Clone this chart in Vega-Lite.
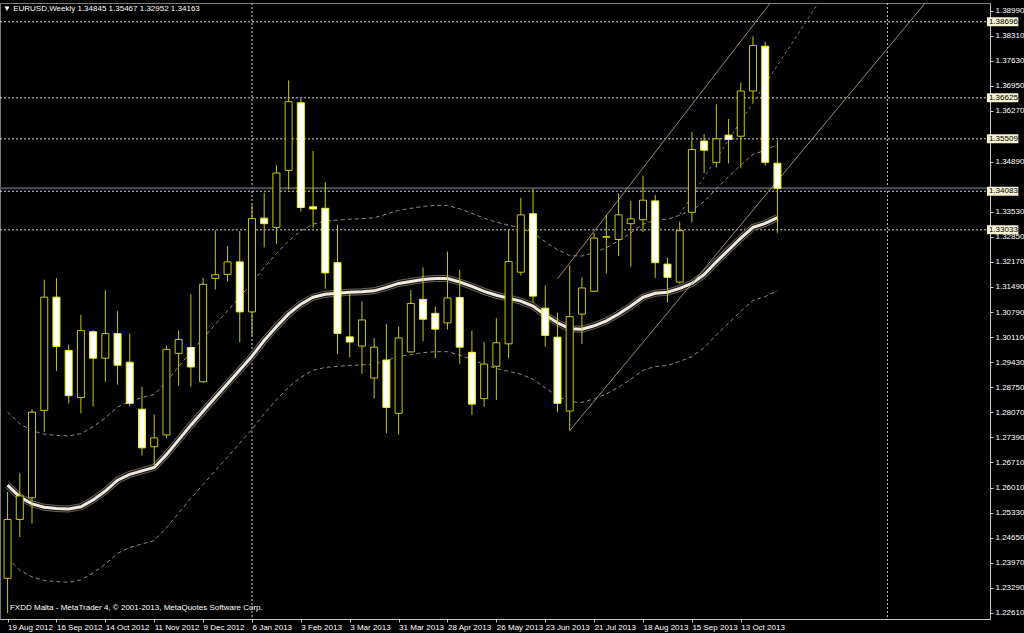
{
  "$schema": "https://vega.github.io/schema/vega-lite/v6.json",
  "width": 990,
  "height": 616,
  "autosize": {"type": "none"},
  "padding": {"left": 0, "top": 3, "right": 34, "bottom": 14},
  "background": "#000000",
  "title": {"text": "▼ EURUSD,Weekly  1.34845 1.35467 1.32952 1.34163", "anchor": "start", "frame": "group", "orient": "top", "offset": -18, "baseline": "bottom", "color": "#ffffff", "fontSize": 8, "fontWeight": "normal", "font": "Liberation Sans, DejaVu Sans", "dx": 3},
  "config": {
    "view": {"stroke": "#7a7a7a", "fill": "#000000"},
    "font": "Liberation Sans",
    "axis": {"grid": false, "title": null, "labelOverlap": false, "labelFlush": false, "labelBound": false, "labelFontSize": 8, "labelColor": "#ffffff", "labelFont": "Liberation Sans", "tickSize": 3, "tickColor": "#c8c8c8", "domainColor": "#c8c8c8", "zindex": 0},
    "axisX": {"labelAlign": "left", "labelBaseline": "top", "labelPadding": 1, "labelDx": -3},
    "axisY": {"labelAlign": "left", "labelBaseline": "middle", "labelPadding": 2}
  },
  "datasets": {
    "candles": [
      {"date":"2012-08-19","open":1.2355,"high":1.2590,"low":1.2260,"close":1.2515,"ma":1.26085,"upper":1.28075,"lower":1.24095},
      {"date":"2012-08-26","open":1.2515,"high":1.2641,"low":1.2467,"close":1.2579,"ma":1.25764,"upper":1.27754,"lower":1.23774},
      {"date":"2012-09-02","open":1.2574,"high":1.2815,"low":1.2504,"close":1.2807,"ma":1.25576,"upper":1.27566,"lower":1.23586},
      {"date":"2012-09-09","open":1.2812,"high":1.3168,"low":1.2753,"close":1.3120,"ma":1.25482,"upper":1.27472,"lower":1.23492},
      {"date":"2012-09-16","open":1.3120,"high":1.3172,"low":1.2919,"close":1.2986,"ma":1.25450,"upper":1.27440,"lower":1.23460},
      {"date":"2012-09-23","open":1.2975,"high":1.2991,"low":1.2831,"close":1.2852,"ma":1.25434,"upper":1.27424,"lower":1.23444},
      {"date":"2012-09-30","open":1.2847,"high":1.3072,"low":1.2804,"close":1.3029,"ma":1.25496,"upper":1.27486,"lower":1.23506},
      {"date":"2012-10-07","open":1.3026,"high":1.3030,"low":1.2823,"close":1.2954,"ma":1.25683,"upper":1.27673,"lower":1.23693},
      {"date":"2012-10-14","open":1.2954,"high":1.3139,"low":1.2890,"close":1.3021,"ma":1.25924,"upper":1.27914,"lower":1.23934},
      {"date":"2012-10-21","open":1.3021,"high":1.3082,"low":1.2882,"close":1.2935,"ma":1.26219,"upper":1.28209,"lower":1.24229},
      {"date":"2012-10-28","open":1.2943,"high":1.3021,"low":1.2823,"close":1.2831,"ma":1.26379,"upper":1.28369,"lower":1.24389},
      {"date":"2012-11-04","open":1.2815,"high":1.2876,"low":1.2689,"close":1.2710,"ma":1.26473,"upper":1.28463,"lower":1.24483},
      {"date":"2012-11-11","open":1.2713,"high":1.2801,"low":1.2662,"close":1.2737,"ma":1.26567,"upper":1.28557,"lower":1.24577},
      {"date":"2012-11-18","open":1.2745,"high":1.2989,"low":1.2737,"close":1.2978,"ma":1.26915,"upper":1.28905,"lower":1.24925},
      {"date":"2012-11-25","open":1.2967,"high":1.3029,"low":1.2879,"close":1.3005,"ma":1.27317,"upper":1.29307,"lower":1.25327},
      {"date":"2012-12-02","open":1.2983,"high":1.3128,"low":1.2876,"close":1.2930,"ma":1.27718,"upper":1.29708,"lower":1.25728},
      {"date":"2012-12-09","open":1.2890,"high":1.3173,"low":1.2887,"close":1.3155,"ma":1.28093,"upper":1.30083,"lower":1.26103},
      {"date":"2012-12-16","open":1.3171,"high":1.3302,"low":1.3141,"close":1.3181,"ma":1.28468,"upper":1.30458,"lower":1.26478},
      {"date":"2012-12-23","open":1.3182,"high":1.3259,"low":1.3163,"close":1.3216,"ma":1.28843,"upper":1.30833,"lower":1.26853},
      {"date":"2012-12-30","open":1.3216,"high":1.3300,"low":1.2997,"close":1.3080,"ma":1.29217,"upper":1.31207,"lower":1.27227},
      {"date":"2013-01-06","open":1.3080,"high":1.3370,"low":1.3013,"close":1.3334,"ma":1.29592,"upper":1.31582,"lower":1.27602},
      {"date":"2013-01-13","open":1.3335,"high":1.3404,"low":1.3256,"close":1.3320,"ma":1.30021,"upper":1.32011,"lower":1.28031},
      {"date":"2013-01-20","open":1.3310,"high":1.3479,"low":1.3265,"close":1.3458,"ma":1.30396,"upper":1.32386,"lower":1.28406},
      {"date":"2013-01-27","open":1.3465,"high":1.3710,"low":1.3413,"close":1.3652,"ma":1.30744,"upper":1.32734,"lower":1.28754},
      {"date":"2013-02-03","open":1.3649,"high":1.3661,"low":1.3353,"close":1.3364,"ma":1.31011,"upper":1.33001,"lower":1.29021},
      {"date":"2013-02-10","open":1.3366,"high":1.3518,"low":1.3308,"close":1.3360,"ma":1.31199,"upper":1.33189,"lower":1.29209},
      {"date":"2013-02-17","open":1.3362,"high":1.3433,"low":1.3143,"close":1.3186,"ma":1.31279,"upper":1.33269,"lower":1.29289},
      {"date":"2013-02-24","open":1.3214,"high":1.3317,"low":1.2965,"close":1.3021,"ma":1.31306,"upper":1.33296,"lower":1.29316},
      {"date":"2013-03-03","open":1.3012,"high":1.3130,"low":1.2956,"close":1.2998,"ma":1.31333,"upper":1.33323,"lower":1.29343},
      {"date":"2013-03-10","open":1.2987,"high":1.3109,"low":1.2911,"close":1.3058,"ma":1.31346,"upper":1.33336,"lower":1.29356},
      {"date":"2013-03-17","open":1.2900,"high":1.3009,"low":1.2844,"close":1.2984,"ma":1.31373,"upper":1.33363,"lower":1.29383},
      {"date":"2013-03-24","open":1.2949,"high":1.3047,"low":1.2750,"close":1.2820,"ma":1.31467,"upper":1.33457,"lower":1.29477},
      {"date":"2013-03-31","open":1.2804,"high":1.3040,"low":1.2746,"close":1.3009,"ma":1.31574,"upper":1.33564,"lower":1.29584},
      {"date":"2013-04-07","open":1.2971,"high":1.3139,"low":1.2969,"close":1.3103,"ma":1.31627,"upper":1.33617,"lower":1.29637},
      {"date":"2013-04-14","open":1.3114,"high":1.3201,"low":1.3000,"close":1.3060,"ma":1.31681,"upper":1.33671,"lower":1.29691},
      {"date":"2013-04-21","open":1.3076,"high":1.3094,"low":1.2954,"close":1.3033,"ma":1.31707,"upper":1.33697,"lower":1.29717},
      {"date":"2013-04-28","open":1.3050,"high":1.3244,"low":1.3032,"close":1.3118,"ma":1.31707,"upper":1.33697,"lower":1.29717},
      {"date":"2013-05-05","open":1.3119,"high":1.3194,"low":1.2938,"close":1.2984,"ma":1.31614,"upper":1.33604,"lower":1.29624},
      {"date":"2013-05-12","open":1.2970,"high":1.3029,"low":1.2799,"close":1.2829,"ma":1.31493,"upper":1.33483,"lower":1.29503},
      {"date":"2013-05-19","open":1.2844,"high":1.2998,"low":1.2822,"close":1.2938,"ma":1.31359,"upper":1.33349,"lower":1.29369},
      {"date":"2013-05-26","open":1.2932,"high":1.3063,"low":1.2840,"close":1.2996,"ma":1.31252,"upper":1.33242,"lower":1.29262},
      {"date":"2013-06-02","open":1.2993,"high":1.3304,"low":1.2954,"close":1.3217,"ma":1.31172,"upper":1.33162,"lower":1.29182},
      {"date":"2013-06-09","open":1.3188,"high":1.3390,"low":1.3179,"close":1.3344,"ma":1.31092,"upper":1.33082,"lower":1.29102},
      {"date":"2013-06-16","open":1.3347,"high":1.3415,"low":1.3105,"close":1.3123,"ma":1.30958,"upper":1.32948,"lower":1.28968},
      {"date":"2013-06-23","open":1.3090,"high":1.3152,"low":1.2985,"close":1.3016,"ma":1.30717,"upper":1.32707,"lower":1.28727},
      {"date":"2013-06-30","open":1.3011,"high":1.3078,"low":1.2807,"close":1.2831,"ma":1.30503,"upper":1.32493,"lower":1.28513},
      {"date":"2013-07-07","open":1.2810,"high":1.3206,"low":1.2757,"close":1.3067,"ma":1.30342,"upper":1.32332,"lower":1.28352},
      {"date":"2013-07-14","open":1.3074,"high":1.3174,"low":1.2993,"close":1.3145,"ma":1.30329,"upper":1.32319,"lower":1.28339},
      {"date":"2013-07-21","open":1.3136,"high":1.3295,"low":1.3134,"close":1.3281,"ma":1.30422,"upper":1.32412,"lower":1.28432},
      {"date":"2013-07-28","open":1.3283,"high":1.3344,"low":1.3185,"close":1.3285,"ma":1.30556,"upper":1.32546,"lower":1.28566},
      {"date":"2013-08-04","open":1.3277,"high":1.3402,"low":1.3232,"close":1.3344,"ma":1.30744,"upper":1.32734,"lower":1.28754},
      {"date":"2013-08-11","open":1.3320,"high":1.3382,"low":1.3203,"close":1.3333,"ma":1.30958,"upper":1.32948,"lower":1.28968},
      {"date":"2013-08-18","open":1.3331,"high":1.3451,"low":1.3297,"close":1.3384,"ma":1.31199,"upper":1.33189,"lower":1.29209},
      {"date":"2013-08-25","open":1.3382,"high":1.3398,"low":1.3173,"close":1.3214,"ma":1.31306,"upper":1.33296,"lower":1.29316},
      {"date":"2013-09-01","open":1.3210,"high":1.3228,"low":1.3105,"close":1.3174,"ma":1.31333,"upper":1.33323,"lower":1.29343},
      {"date":"2013-09-08","open":1.3161,"high":1.3326,"low":1.3157,"close":1.3301,"ma":1.31440,"upper":1.33430,"lower":1.29450},
      {"date":"2013-09-15","open":1.3351,"high":1.3569,"low":1.3324,"close":1.3522,"ma":1.31574,"upper":1.33564,"lower":1.29584},
      {"date":"2013-09-22","open":1.3545,"high":1.3564,"low":1.3458,"close":1.3520,"ma":1.31815,"upper":1.33805,"lower":1.29825},
      {"date":"2013-09-29","open":1.3487,"high":1.3645,"low":1.3473,"close":1.3551,"ma":1.32163,"upper":1.34153,"lower":1.30173},
      {"date":"2013-10-06","open":1.3561,"high":1.3605,"low":1.3484,"close":1.3549,"ma":1.32484,"upper":1.34474,"lower":1.30494},
      {"date":"2013-10-13","open":1.3558,"high":1.3704,"low":1.3471,"close":1.3681,"ma":1.32805,"upper":1.34795,"lower":1.30815},
      {"date":"2013-10-20","open":1.3681,"high":1.3830,"low":1.3650,"close":1.3805,"ma":1.33100,"upper":1.35090,"lower":1.31110},
      {"date":"2013-10-27","open":1.3803,"high":1.3815,"low":1.3478,"close":1.3487,"ma":1.33207,"upper":1.35197,"lower":1.31217},
      {"date":"2013-11-03","open":1.34845,"high":1.35467,"low":1.32952,"close":1.34163,"ma":1.33367,"upper":1.35357,"lower":1.31377}
    ],
    "levels": [{"price":1.38696},{"price":1.36625},{"price":1.35509},{"price":1.34083},{"price":1.33033}],
    "current": [{"price":1.34163}],
    "vgrid": [{"date":"2013-01-06"},{"date":"2014-01-05"}],
    "channel": [
      {"line":"upper","date":"2013-06-30","price":1.31699},
      {"line":"upper","date":"2013-11-10","price":1.3989},
      {"line":"lower","date":"2013-07-07","price":1.2757},
      {"line":"lower","date":"2014-02-16","price":1.40367}
    ],
    "dashline": [
      {"date":"2013-09-08","price":1.3345},
      {"date":"2013-12-01","price":1.3954}
    ]
  },
  "layer": [
    {
      "data": {"name": "vgrid"},
      "mark": {"type": "rule", "color": "#c8c8c8", "strokeDash": [2, 2], "strokeWidth": 1},
      "encoding": {
        "x": {"field": "date", "type": "temporal",
          "scale": {"type": "utc", "domain": [{"year":2012,"month":8,"date":17,"hours":12,"minutes":36,"utc":true},{"year":2014,"month":3,"date":1,"hours":21,"minutes":36,"utc":true}]},
          "axis": {"orient": "bottom", "title": null, "grid": false, "labelOverlap": false, "tickCount": 40, "zindex": 0,
            "values": [
              {"year":2012,"month":8,"date":19,"utc":true},{"year":2012,"month":9,"date":16,"utc":true},{"year":2012,"month":10,"date":14,"utc":true},{"year":2012,"month":11,"date":11,"utc":true},{"year":2012,"month":12,"date":9,"utc":true},{"year":2013,"month":1,"date":6,"utc":true},{"year":2013,"month":2,"date":3,"utc":true},{"year":2013,"month":3,"date":3,"utc":true},{"year":2013,"month":3,"date":31,"utc":true},{"year":2013,"month":4,"date":28,"utc":true},{"year":2013,"month":5,"date":26,"utc":true},{"year":2013,"month":6,"date":23,"utc":true},{"year":2013,"month":7,"date":21,"utc":true},{"year":2013,"month":8,"date":18,"utc":true},{"year":2013,"month":9,"date":15,"utc":true},{"year":2013,"month":10,"date":13,"utc":true}
            ],
            "format": "%-d %b %Y"}
        }
      }
    },
    {
      "data": {"name": "current"},
      "mark": {"type": "rule", "color": "#4f555c", "strokeWidth": 2},
      "encoding": {
        "y": {"field": "price", "type": "quantitative", "scale": {"domain": [1.22578, 1.3907], "zero": false, "nice": false},
          "axis": {"orient": "right", "title": null, "grid": false, "labelOverlap": false, "tickCount": 40, "zindex": 0,
            "values": [1.3899,1.3831,1.3763,1.3695,1.3627,1.3489,1.3353,1.3285,1.3217,1.3149,1.3079,1.3011,1.2943,1.2875,1.2807,1.2739,1.2671,1.2601,1.2533,1.2465,1.2397,1.2329,1.2261],
            "format": ".5f"}
        }
      }
    },
    {
      "data": {"name": "levels"},
      "mark": {"type": "rule", "color": "#d8d8c8", "strokeDash": [2, 2], "strokeWidth": 1},
      "encoding": {
        "y": {"field": "price", "type": "quantitative"}
      }
    },
    {
      "data": {"name": "candles"},
      "mark": {"type": "line", "color": "#8c8c8c", "strokeWidth": 1, "strokeDash": [4, 3], "clip": true},
      "encoding": {
        "x": {"field": "date", "type": "temporal"},
        "y": {"field": "upper", "type": "quantitative"}
      }
    },
    {
      "data": {"name": "candles"},
      "mark": {"type": "line", "color": "#8c8c8c", "strokeWidth": 1, "strokeDash": [4, 3], "clip": true},
      "encoding": {
        "x": {"field": "date", "type": "temporal"},
        "y": {"field": "lower", "type": "quantitative"}
      }
    },
    {
      "data": {"name": "candles"},
      "mark": {"type": "line", "color": "#65615c", "strokeWidth": 7, "clip": true},
      "encoding": {
        "x": {"field": "date", "type": "temporal"},
        "y": {"field": "ma", "type": "quantitative"}
      }
    },
    {
      "data": {"name": "candles"},
      "mark": {"type": "line", "color": "#141414", "strokeWidth": 5, "clip": true},
      "encoding": {
        "x": {"field": "date", "type": "temporal"},
        "y": {"field": "ma", "type": "quantitative"}
      }
    },
    {
      "data": {"name": "candles"},
      "mark": {"type": "line", "color": "#f1e9dd", "strokeWidth": 3, "clip": true},
      "encoding": {
        "x": {"field": "date", "type": "temporal"},
        "y": {"field": "ma", "type": "quantitative"}
      }
    },
    {
      "data": {"name": "channel"},
      "mark": {"type": "line", "color": "#9c8a68", "strokeWidth": 1, "clip": true},
      "encoding": {
        "x": {"field": "date", "type": "temporal"},
        "y": {"field": "price", "type": "quantitative"},
        "detail": {"field": "line"}
      }
    },
    {
      "data": {"name": "dashline"},
      "mark": {"type": "line", "color": "#7c7c7c", "strokeWidth": 1, "strokeDash": [3, 3], "clip": true},
      "encoding": {
        "x": {"field": "date", "type": "temporal"},
        "y": {"field": "price", "type": "quantitative"}
      }
    },
    {
      "data": {"name": "candles"},
      "mark": {"type": "rule", "color": "#c8c800", "strokeWidth": 1, "clip": true},
      "encoding": {
        "x": {"field": "date", "type": "temporal"},
        "y": {"field": "low", "type": "quantitative"},
        "y2": {"field": "high"}
      }
    },
    {
      "data": {"name": "candles"},
      "mark": {"type": "bar", "size": 7, "strokeWidth": 1, "clip": true},
      "encoding": {
        "x": {"field": "date", "type": "temporal"},
        "y": {"field": "open", "type": "quantitative"},
        "y2": {"field": "close"},
        "fill": {"condition": {"test": "datum.close >= datum.open", "value": "#000000"}, "value": "#ffffff"},
        "stroke": {"condition": {"test": "datum.close >= datum.open", "value": "#c8c800"}, "value": "#f5f500"}
      }
    },
    {
      "data": {"name": "levels"},
      "mark": {"type": "bar", "size": 9, "fill": "#f6f2d2", "clip": false},
      "encoding": {
        "x": {"datum": {"year":2014,"month":3,"date":3,"utc":true}, "type": "temporal"},
        "x2": {"datum": {"year":2014,"month":3,"date":21,"utc":true}},
        "y": {"field": "price", "type": "quantitative"}
      }
    },
    {
      "data": {"name": "levels"},
      "mark": {"type": "text", "align": "left", "baseline": "middle", "fontSize": 8, "font": "Liberation Sans", "color": "#000000", "dx": 2, "clip": false},
      "encoding": {
        "x": {"datum": {"year":2014,"month":3,"date":3,"utc":true}, "type": "temporal"},
        "y": {"field": "price", "type": "quantitative"},
        "text": {"field": "price", "type": "quantitative", "format": ".5f"}
      }
    },
    {
      "data": {"values": [{"t": "FXDD Malta - MetaTrader 4, © 2001-2013, MetaQuotes Software Corp."}]},
      "mark": {"type": "text", "align": "left", "baseline": "middle", "fontSize": 8, "font": "Liberation Sans", "color": "#ffffff"},
      "encoding": {
        "x": {"datum": {"year":2012,"month":8,"date":20,"hours":9,"utc":true}, "type": "temporal"},
        "y": {"datum": 1.22738, "type": "quantitative"},
        "text": {"field": "t"}
      }
    }
  ]
}
